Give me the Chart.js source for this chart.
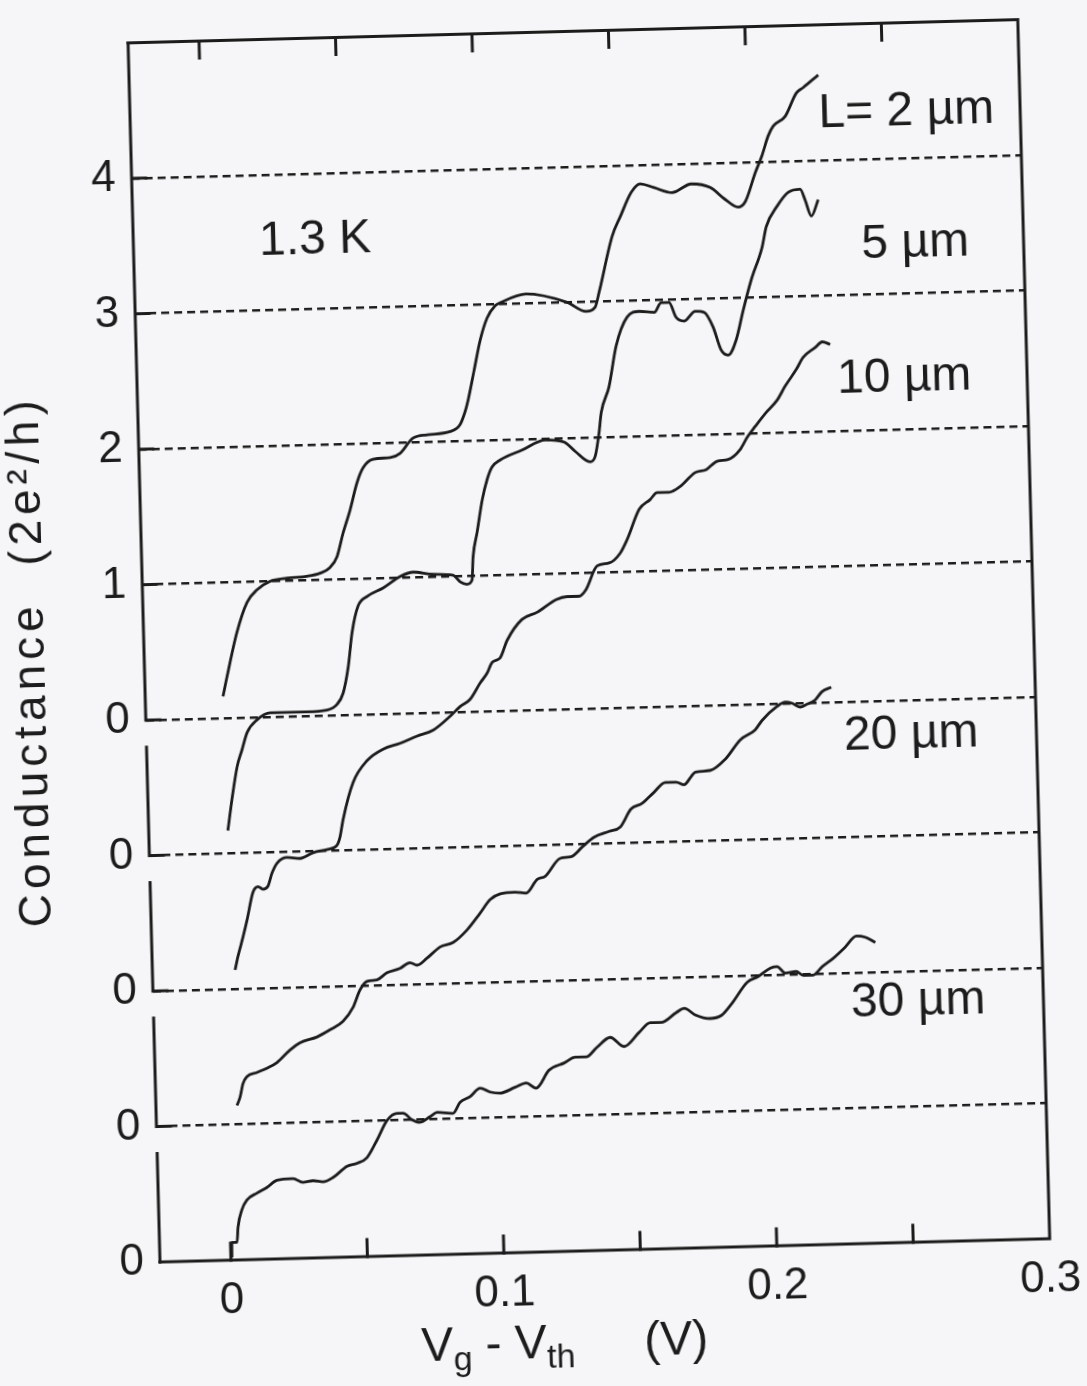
<!DOCTYPE html>
<html>
<head>
<meta charset="utf-8">
<script src="https://cdn.jsdelivr.net/npm/chart.js@4.4.1/dist/chart.umd.min.js"></script>
<style>
  html, body { margin: 0; padding: 0; background: #f6f6f8; overflow: hidden; }
  /* the scanned figure sits slightly tilted on the page */
  #wrap { width: 1087px; height: 1386px; transform: rotate(-1.5deg); transform-origin: 160px 1262px; }
</style>
</head>
<body>
<div id="wrap"><canvas id="myChart" width="1087" height="1386"></canvas></div>
<script>
// gate voltage Vg - Vth (V) and conductance (2e^2/h) for each wire length
var vg2 = [0.0025, 0.0041, 0.0082, 0.0122, 0.0160, 0.0208, 0.0271, 0.0344, 0.0392, 0.0429, 0.0456, 0.0480, 0.0508, 0.0536, 0.0560, 0.0597, 0.0660, 0.0697, 0.0746, 0.0797, 0.0882, 0.0919, 0.0938, 0.0951, 0.0976, 0.1001, 0.1028, 0.1059, 0.1077, 0.1173, 0.1323, 0.1392, 0.1425, 0.1441, 0.1494, 0.1525, 0.1568, 0.1601, 0.1652, 0.1718, 0.1788, 0.1858, 0.1911, 0.1958, 0.1985, 0.2024, 0.2051, 0.2075, 0.2094, 0.2139, 0.2182, 0.2208, 0.2264];
var g2 = [0.16, 0.30, 0.63, 0.85, 0.94, 1.00, 1.02, 1.03, 1.05, 1.09, 1.17, 1.34, 1.51, 1.71, 1.82, 1.88, 1.89, 1.92, 2.03, 2.05, 2.07, 2.12, 2.21, 2.30, 2.52, 2.74, 2.90, 2.99, 3.01, 3.07, 3.00, 2.93, 2.96, 3.07, 3.48, 3.62, 3.80, 3.86, 3.83, 3.79, 3.85, 3.82, 3.73, 3.67, 3.71, 3.92, 4.05, 4.19, 4.26, 4.33, 4.50, 4.54, 4.63];

var vg5 = [0.0030, 0.0048, 0.0070, 0.0089, 0.0110, 0.0147, 0.0196, 0.0258, 0.0331, 0.0405, 0.0442, 0.0465, 0.0486, 0.0504, 0.0528, 0.0562, 0.0622, 0.0685, 0.0733, 0.0806, 0.0879, 0.0904, 0.0929, 0.0948, 0.0954, 0.0971, 0.0993, 0.1013, 0.1032, 0.1062, 0.1144, 0.1229, 0.1299, 0.1338, 0.1392, 0.1411, 0.1427, 0.1437, 0.1468, 0.1498, 0.1541, 0.1586, 0.1641, 0.1667, 0.1696, 0.1720, 0.1749, 0.1791, 0.1824, 0.1855, 0.1882, 0.1908, 0.1938, 0.1967, 0.1999, 0.2042, 0.2059, 0.2101, 0.2143, 0.2187, 0.2204, 0.2225, 0.2252];
var g5 = [0.17, 0.40, 0.64, 0.76, 0.89, 0.98, 1.03, 1.03, 1.03, 1.04, 1.08, 1.16, 1.35, 1.61, 1.80, 1.87, 1.93, 2.01, 2.04, 2.02, 2.01, 1.96, 1.94, 1.97, 2.14, 2.32, 2.56, 2.71, 2.80, 2.85, 2.92, 2.99, 2.97, 2.90, 2.82, 2.86, 3.03, 3.18, 3.37, 3.67, 3.88, 3.92, 3.91, 3.98, 3.98, 3.87, 3.84, 3.91, 3.90, 3.79, 3.62, 3.58, 3.69, 3.91, 4.13, 4.37, 4.52, 4.67, 4.77, 4.79, 4.71, 4.59, 4.71];

var vg10 = [0.0043, 0.0055, 0.0075, 0.0092, 0.0116, 0.0135, 0.0153, 0.0171, 0.0188, 0.0207, 0.0244, 0.0292, 0.0340, 0.0391, 0.0428, 0.0440, 0.0453, 0.0493, 0.0547, 0.0606, 0.0669, 0.0732, 0.0791, 0.0855, 0.0892, 0.0929, 0.0968, 0.0994, 0.1014, 0.1043, 0.1071, 0.1127, 0.1183, 0.1254, 0.1294, 0.1338, 0.1365, 0.1407, 0.1452, 0.1493, 0.1520, 0.1567, 0.1608, 0.1634, 0.1678, 0.1719, 0.1775, 0.1816, 0.1857, 0.1897, 0.1942, 0.1969, 0.2000, 0.2041, 0.2083, 0.2113, 0.2155, 0.2182, 0.2227, 0.2253, 0.2282];
var g10 = [0.14, 0.24, 0.38, 0.51, 0.71, 0.75, 0.73, 0.75, 0.85, 0.92, 0.96, 0.95, 0.99, 1.01, 1.04, 1.10, 1.23, 1.50, 1.66, 1.74, 1.78, 1.83, 1.87, 1.97, 2.04, 2.09, 2.21, 2.28, 2.36, 2.39, 2.52, 2.67, 2.72, 2.81, 2.83, 2.83, 2.88, 3.05, 3.07, 3.14, 3.24, 3.46, 3.53, 3.58, 3.58, 3.62, 3.72, 3.74, 3.80, 3.81, 3.88, 3.97, 4.05, 4.15, 4.24, 4.34, 4.46, 4.55, 4.62, 4.66, 4.64];

var vg20 = [0.0037, 0.0049, 0.0061, 0.0076, 0.0114, 0.0151, 0.0188, 0.0237, 0.0274, 0.0337, 0.0385, 0.0433, 0.0471, 0.0499, 0.0525, 0.0562, 0.0599, 0.0647, 0.0684, 0.0710, 0.0747, 0.0796, 0.0844, 0.0896, 0.0945, 0.0984, 0.1021, 0.1076, 0.1116, 0.1158, 0.1187, 0.1244, 0.1284, 0.1326, 0.1370, 0.1426, 0.1467, 0.1508, 0.1549, 0.1594, 0.1636, 0.1676, 0.1705, 0.1732, 0.1747, 0.1802, 0.1858, 0.1915, 0.1970, 0.1997, 0.2053, 0.2083, 0.2108, 0.2137, 0.2163, 0.2193, 0.2219, 0.2253];
var g20 = [0.14, 0.20, 0.30, 0.35, 0.38, 0.41, 0.45, 0.54, 0.59, 0.63, 0.68, 0.74, 0.84, 0.97, 1.03, 1.04, 1.09, 1.12, 1.16, 1.14, 1.19, 1.27, 1.30, 1.39, 1.51, 1.61, 1.65, 1.66, 1.65, 1.75, 1.77, 1.90, 1.91, 1.98, 2.05, 2.09, 2.12, 2.25, 2.29, 2.37, 2.44, 2.44, 2.42, 2.48, 2.51, 2.52, 2.60, 2.74, 2.81, 2.88, 2.98, 3.01, 3.00, 2.97, 2.99, 3.02, 3.08, 3.11];

var vg30 = [0.0004, 0.0005, 0.0024, 0.0029, 0.0045, 0.0064, 0.0102, 0.0139, 0.0176, 0.0235, 0.0271, 0.0308, 0.0345, 0.0382, 0.0434, 0.0471, 0.0508, 0.0547, 0.0585, 0.0622, 0.0644, 0.0677, 0.0705, 0.0743, 0.0769, 0.0827, 0.0854, 0.0891, 0.0929, 0.0965, 0.1001, 0.1057, 0.1098, 0.1134, 0.1183, 0.1239, 0.1280, 0.1320, 0.1361, 0.1410, 0.1460, 0.1516, 0.1558, 0.1598, 0.1654, 0.1684, 0.1723, 0.1778, 0.1819, 0.1860, 0.1917, 0.1958, 0.2003, 0.2028, 0.2057, 0.2097, 0.2123, 0.2159, 0.2193, 0.2234, 0.2279, 0.2321, 0.2353, 0.2390];
var g30 = [0.02, 0.13, 0.13, 0.24, 0.37, 0.44, 0.49, 0.53, 0.58, 0.59, 0.56, 0.57, 0.56, 0.59, 0.67, 0.69, 0.73, 0.86, 1.00, 1.05, 1.05, 1.00, 0.98, 1.02, 1.05, 1.04, 1.12, 1.16, 1.22, 1.19, 1.18, 1.22, 1.25, 1.21, 1.34, 1.39, 1.43, 1.43, 1.50, 1.57, 1.50, 1.60, 1.67, 1.67, 1.74, 1.77, 1.72, 1.69, 1.71, 1.80, 1.95, 1.99, 2.05, 2.06, 2.01, 2.02, 1.99, 1.99, 2.05, 2.11, 2.19, 2.27, 2.26, 2.22];

var lengths = ['L= 2 µm', '5 µm', '10 µm', '20 µm', '30 µm'];
var offsets = [4, 3, 2, 1, 0];          // each trace is shifted up by one unit
var yTickLabels = ['0', '0', '0', '0', '0', '1', '2', '3', '4', ''];

var ink = '#1c1c1c';
var family = '"Liberation Sans", Arial, Helvetica, sans-serif';

var vgs = [vg2, vg5, vg10, vg20, vg30];
var gs = [g2, g5, g10, g20, g30];

var datasets = lengths.map(function (name, i) {
    return {
        label: name,
        data: vgs[i].map(function (v, j) { return {x: v, y: gs[i][j] + offsets[i]}; }),
        borderColor: ink,
        borderWidth: 2.8,
        pointRadius: 0,
        fill: false,
        cubicInterpolationMode: 'monotone'
    };
});

// frame, broken left axis, inward ticks and the text on the plot
var decorations = {
    id: 'decorations',
    afterDraw: function (chart) {
        var ctx = chart.ctx, a = chart.chartArea;
        var x = chart.scales.x, y = chart.scales.y;
        ctx.save();
        ctx.strokeStyle = ink;
        ctx.fillStyle = ink;
        ctx.lineWidth = 3;
        ctx.lineCap = 'square';

        ctx.beginPath();
        ctx.moveTo(a.left, a.top);
        ctx.lineTo(a.right, a.top);
        ctx.lineTo(a.right, a.bottom);
        ctx.lineTo(a.left, a.bottom);
        ctx.stroke();

        // left axis is broken between the stacked traces
        ctx.beginPath();
        offsets.forEach(function (k) {
            var hi = k === 4 ? 9 : k + 0.8;
            ctx.moveTo(a.left, y.getPixelForValue(k));
            ctx.lineTo(a.left, y.getPixelForValue(hi));
        });
        for (var v = 1; v <= 8; v++) {
            var py = y.getPixelForValue(v);
            ctx.moveTo(a.left, py);
            ctx.lineTo(a.left + 14, py);
        }
        x.ticks.forEach(function (t) {
            if (t.value >= x.max) return;
            var px = x.getPixelForValue(t.value);
            ctx.moveTo(px, a.bottom);
            ctx.lineTo(px, a.bottom - 17);
            ctx.moveTo(px, a.top);
            ctx.lineTo(px, a.top + 17);
        });
        ctx.stroke();

        // curve names and temperature
        var notes = [
            ['L= 2 µm', 0.2583, 8.34],
            ['5 µm', 0.2603, 7.37],
            ['10 µm', 0.2550, 6.38],
            ['20 µm', 0.2541, 3.74],
            ['30 µm', 0.2541, 1.77],
            ['1.3 K', 0.0406, 7.51]
        ];
        ctx.font = '48px ' + family;
        ctx.textAlign = 'center';
        ctx.textBaseline = 'middle';
        notes.forEach(function (n) {
            ctx.fillText(n[0], x.getPixelForValue(n[1]), y.getPixelForValue(n[2]));
        });

        // y axis title, set a little wide like the original lettering
        ctx.save();
        ctx.translate(a.left - 113, (a.top + a.bottom) / 2 + 6);
        ctx.rotate(-Math.PI / 2);
        ctx.font = '46px ' + family;
        ctx.letterSpacing = '5px';
        ctx.fillText('Conductance  (2e²/h)', 0, 0);
        ctx.restore();

        // x axis title with subscripts
        var bx = a.left + 259, by = a.bottom + 106;
        ctx.textAlign = 'left';
        ctx.textBaseline = 'alphabetic';
        var parts = [['V', 48, 0], ['g', 34, 10], [' - ', 48, 0], ['V', 48, 0], ['th', 34, 10]];
        parts.forEach(function (p) {
            ctx.font = p[1] + 'px ' + family;
            ctx.fillText(p[0], bx, by + p[2]);
            bx += ctx.measureText(p[0]).width;
        });
        ctx.font = '48px ' + family;
        ctx.fillText('(V)', a.left + 482, by);
        ctx.restore();
    }
};

var ctx = document.getElementById('myChart').getContext('2d');

var conductanceChart = new Chart(ctx, {
    type: 'line',
    data: { datasets: datasets },
    options: {
        responsive: false,
        animation: false,
        devicePixelRatio: 1,
        layout: { padding: { top: 42, right: 37, left: 0, bottom: 0 } },
        plugins: {
            legend: { display: false },
            tooltip: { enabled: false }
        },
        scales: {
            x: {
                type: 'linear',
                min: -0.026,
                max: 0.3,
                afterFit: function (scale) { scale.height = 124; },
                grid: { display: false },
                border: { display: false },
                ticks: {
                    stepSize: 0.05,
                    includeBounds: false,
                    autoSkip: false,
                    maxRotation: 0,
                    padding: 6,
                    color: ink,
                    font: { family: family, size: 44 },
                    callback: function (value) {
                        var t = value * 10;
                        return Math.abs(t - Math.round(t)) < 1e-6 ? String(Math.round(t) / 10) : '';
                    }
                }
            },
            y: {
                min: 0,
                max: 9,
                afterFit: function (scale) { scale.width = 160; },
                grid: {
                    drawTicks: false,
                    lineWidth: 2.4,
                    color: function (c) {
                        return c.tick && c.tick.value >= 1 && c.tick.value <= 8 ? ink : 'rgba(0,0,0,0)';
                    }
                },
                border: { display: false, dash: [8, 5] },
                ticks: {
                    stepSize: 1,
                    padding: 16,
                    color: ink,
                    font: { family: family, size: 44 },
                    callback: function (value) { return yTickLabels[value]; }
                }
            }
        }
    },
    plugins: [decorations]
});
</script>
</body>
</html>
